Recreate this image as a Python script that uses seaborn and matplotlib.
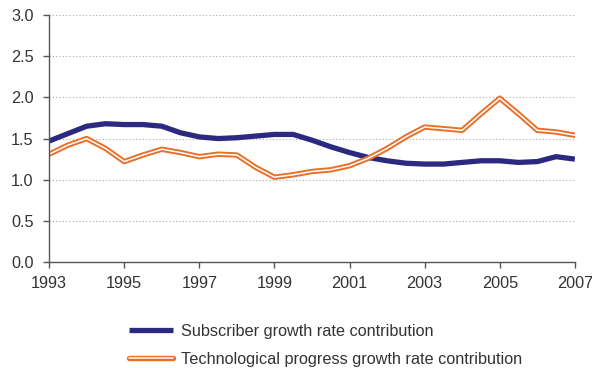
import numpy as np
import pandas as pd
import seaborn as sns
import matplotlib.pyplot as plt
import matplotlib.patheffects as pe

# values at half-year steps
years = [1993.0, 1993.5, 1994.0, 1994.5, 1995.0, 1995.5, 1996.0, 1996.5,
         1997.0, 1997.5, 1998.0, 1998.5, 1999.0, 1999.5, 2000.0, 2000.5,
         2001.0, 2001.5, 2002.0, 2002.5, 2003.0, 2003.5, 2004.0, 2004.5,
         2005.0, 2005.5, 2006.0, 2006.5, 2007.0]
subscriber = [1.47, 1.56, 1.65, 1.68, 1.67, 1.67, 1.65, 1.57,
              1.52, 1.50, 1.51, 1.53, 1.55, 1.55, 1.48, 1.40,
              1.33, 1.27, 1.23, 1.20, 1.19, 1.19, 1.21, 1.23,
              1.23, 1.21, 1.22, 1.28, 1.25]
technology = [1.31, 1.42, 1.50, 1.38, 1.22, 1.30, 1.37, 1.33,
              1.28, 1.31, 1.30, 1.15, 1.03, 1.06, 1.10, 1.12,
              1.17, 1.26, 1.38, 1.52, 1.64, 1.62, 1.60, 1.80,
              1.99, 1.80, 1.60, 1.58, 1.54]

x_ticks = [1993, 1995, 1997, 1999, 2001, 2003, 2005, 2007]
y_ticks = [0.0, 0.5, 1.0, 1.5, 2.0, 2.5, 3.0]
labels = ['Subscriber growth rate contribution',
          'Technological progress growth rate contribution']

navy = '#2b2a80'
orange = '#e8702a'
text_col = '#333333'

sns.set_style('white')
plt.rcParams['font.family'] = ['Liberation Sans', 'DejaVu Sans']

df = pd.DataFrame({'year': years, 'sub': subscriber, 'tech': technology})

fig = plt.figure(figsize=(5.92, 3.68), dpi=100)
ax = fig.add_axes([0.083, 0.288, 0.888, 0.671])

sns.lineplot(data=df, x='year', y='sub', ax=ax, color=navy, linewidth=3.8,
             solid_joinstyle='round', solid_capstyle='butt', label=labels[0])
sns.lineplot(data=df, x='year', y='tech', ax=ax, color='white', linewidth=1.1,
             solid_joinstyle='round', label=labels[1],
             path_effects=[pe.Stroke(linewidth=3.9, foreground=orange), pe.Normal()])

ax.set_xlim(1993, 2007)
ax.set_ylim(0, 3.0)
ax.set_xticks(x_ticks)
ax.set_yticks(y_ticks)
ax.set_yticklabels([f'{v:.1f}' for v in y_ticks])
ax.set_xlabel('')
ax.set_ylabel('')

for v in y_ticks[1:]:
    ax.axhline(v, color='#aaaaaa', linestyle=(0, (1, 2)), linewidth=0.8, zorder=0)

for s in ['top', 'right']:
    ax.spines[s].set_visible(False)
for s in ['left', 'bottom']:
    ax.spines[s].set_color('#555555')
    ax.spines[s].set_linewidth(1.0)

ax.tick_params(axis='both', bottom=True, left=True, direction='out', length=4.3,
               width=1.0, color='#555555', labelcolor=text_col, labelsize=11.7)
ax.tick_params(axis='y', pad=7)
ax.tick_params(axis='x', pad=6)

handles, labs = ax.get_legend_handles_labels()
ax.get_legend().remove()
fig.legend(handles, labs, loc='upper left', bbox_to_anchor=(0.218, 0.12),
           frameon=False, fontsize=11.7, labelcolor=text_col,
           handlelength=2.7, handletextpad=0.5, labelspacing=0.82,
           borderaxespad=0, borderpad=0)

fig.savefig('out.png', dpi=100)
